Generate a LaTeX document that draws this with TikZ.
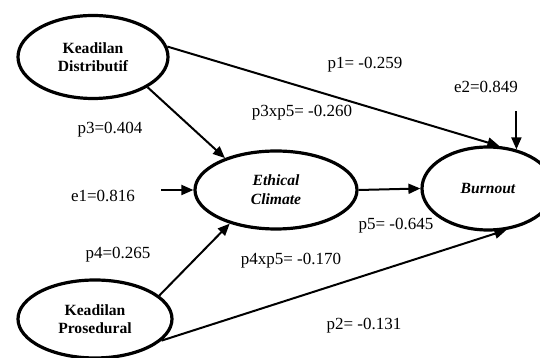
\documentclass[tikz,border=0pt]{standalone}
\usepackage{fontspec}
\setmainfont{Liberation Serif}
\usetikzlibrary{shapes.geometric,arrows.meta}

\begin{document}
\begin{tikzpicture}[x=0.5pt,y=0.5pt,
    >={Triangle[length=6pt,width=5pt]},
    var/.style={draw,ellipse,line width=1.6pt,inner sep=0pt,align=center,
      font=\fontsize{7.8}{9}\selectfont\bfseries},
    ivar/.style={var,font=\fontsize{7.8}{9.5}\selectfont\bfseries\itshape},
    path/.style={->,line width=1pt},
    lbl/.style={font=\fontsize{8.5}{10}\selectfont}]
      \useasboundingbox (0,0) rectangle (540,358);

      % 楕円
      \node[var,minimum width=75pt,minimum height=41.5pt] (KD) at (93,301) {Keadilan\\Distributif};
      \node[ivar,minimum width=81pt,minimum height=39pt] (EC) at (276,168) {Ethical\\Climate};
      \node[ivar,minimum width=66pt,minimum height=41.5pt] (BO) at (488,169.5) {Burnout};
      \node[var,minimum width=77pt,minimum height=39pt] (KP) at (95,39) {Keadilan\\Prosedural};

      % 誤差の始点
      \coordinate (e1in) at ([xshift=-16pt]EC.west);
      \coordinate (e2in) at ([yshift=19pt]BO.54);

      % 矢印
      \draw[path] (KD.-29) -- (EC.148);
      \draw[path] (KD.8) -- (BO.75);
      \draw[path] (KP.20) -- (EC.-144);
      \draw[path] (KP.-18) -- (BO.-66);
      \draw[path] (EC.east) -- (BO.west);
      \draw[path] (e1in) -- (EC.west);
      \draw[path] (e2in) -- (BO.54);

      % 係数
      \node[lbl] (p1) at (365,293) {p1= -0.259};
      \node[lbl] (e2) at (486,271) {e2=0.849};
      \node[lbl] (p3p5) at (302,245) {p3xp5= -0.260};
      \node[lbl] (p3) at (110,228) {p3=0.404};
      \node[lbl] (e1) at (103,162) {e1=0.816};
      \node[lbl] (p4) at (118,103) {p4=0.265};
      \node[lbl] (p4p5) at (291,97) {p4xp5= -0.170};
      \node[lbl] (p5) at (396,132) {p5= -0.645};
      \node[lbl] (p2) at (364,32) {p2= -0.131};
\end{tikzpicture}
\end{document}
